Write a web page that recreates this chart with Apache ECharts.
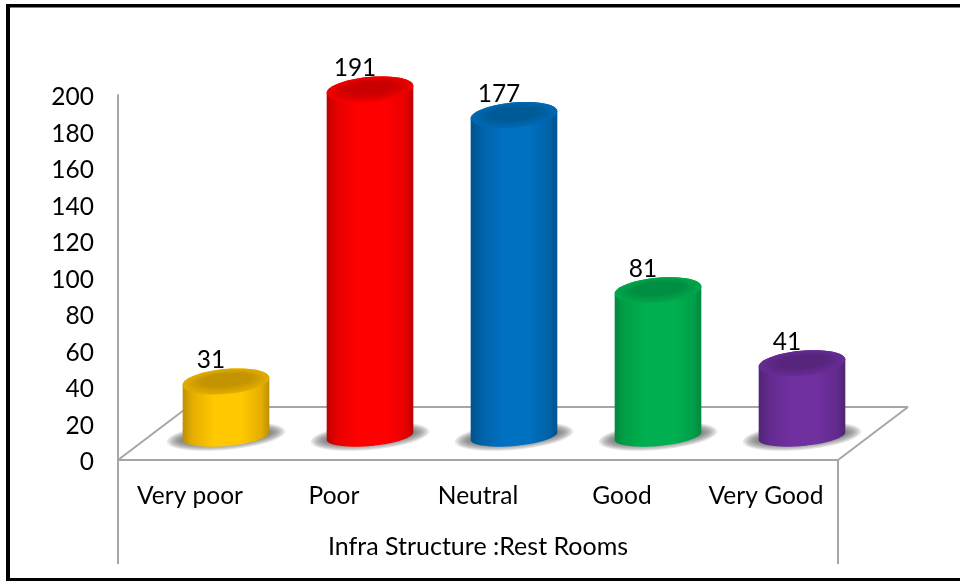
<!DOCTYPE html>
<html><head><meta charset="utf-8">
<style>html,body{margin:0;padding:0;background:#fff}#c{width:960px;height:581px}</style>
<script src="https://cdn.jsdelivr.net/npm/echarts@6/dist/echarts.min.js"></script>
</head><body><div id="c"></div>
<script>
const categories = ['Very poor', 'Poor', 'Neutral', 'Good', 'Very Good'];
const values = [31, 191, 177, 81, 41];
const yMax = 200;
const yStep = 20;
const axisName = 'Infra Structure :Rest Rooms';
const palette = [
  {mid:'#FFC800', soft:'#E6AF00', edge:'#BE9000', cap:'#C29400', rim:'#E2AC00'},
  {mid:'#FF0000', soft:'#E80000', edge:'#BE0000', cap:'#CA0000', rim:'#F00000'},
  {mid:'#0070C0', soft:'#0062A8', edge:'#00528E', cap:'#005A96', rim:'#0068B2'},
  {mid:'#00B050', soft:'#00A048', edge:'#008A3F', cap:'#008F42', rim:'#00A64B'},
  {mid:'#7030A0', soft:'#632A8E', edge:'#512474', cap:'#57267C', rim:'#672C94'}
];
const FONT = 'Lato';
const GREY = '#A6A6A6';
const TILT = -5.2 * Math.PI / 180;
const RX = 43.5;
const LAYERS = 9;

function ellipse(cx, cy, rx, ry, from, to) {
  const pts = [], n = 48;
  for (let i = 0; i <= n; i++) {
    const t = from + (to - from) * i / n;
    const x = rx * Math.cos(t), y = ry * Math.sin(t);
    pts.push([cx + x * Math.cos(TILT) - y * Math.sin(TILT),
              cy + x * Math.sin(TILT) + y * Math.cos(TILT)]);
  }
  return pts;
}
function hGrad(c) {
  return new echarts.graphic.LinearGradient(0, 0, 1, 0, [
    {offset:0, color:c.edge}, {offset:0.12, color:c.soft},
    {offset:0.36, color:c.mid}, {offset:0.68, color:c.mid},
    {offset:0.9, color:c.soft}, {offset:1, color:c.edge}
  ]);
}

function renderFloor(params, api) {
  const rect = params.coordSys;
  const y0 = rect.y + rect.height, L = rect.x, R = rect.x + rect.width;
  const back = y0 - 53, lines = [
    [[L, y0], [L + 70, back]],
    [[L + 70, back], [R + 70, back]],
    [[R + 70, back], [R, y0]],
    [[L, y0], [R, y0]],
    [[L, y0], [L, y0 + 104]],
    [[R, y0], [R, y0 + 104]]
  ];
  return {type:'group', silent:true, children: lines.map(p => ({
    type:'line',
    shape:{x1:p[0][0], y1:p[0][1], x2:p[1][0], y2:p[1][1]},
    style:{stroke:GREY, lineWidth:2}
  }))};
}

function renderBar(params, api) {
  const i = params.dataIndex;
  const top = api.coord([api.value(0), api.value(1)]);
  const base = api.coord([api.value(0), 0]);
  const step = api.size([1, 0])[0];
  const cx = top[0] + step * 0.25;
  const topY = top[1] - 22, botY = base[1] - 24;
  const c = palette[i];
  const topRy = 12.5, botRy = 10;
  const kids = [];
  for (let k = 0; k < LAYERS; k++) {
    const t = k / (LAYERS - 1);
    kids.push({type:'polygon', silent:true,
      shape:{points:ellipse(cx, botY + 0.5, RX + 16 - t * 14, 13.5 - t * 7, 0, 2 * Math.PI)},
      style:{fill:'rgba(90,90,90,0.13)'}});
  }
  const body = ellipse(cx, topY, RX, topRy, Math.PI, 2 * Math.PI)
    .concat(ellipse(cx, botY, RX, botRy, 0, Math.PI));
  kids.push({type:'polygon', shape:{points:body}, style:{fill:hGrad(c)}});
  for (let k = 0; k < LAYERS; k++) {
    const t = k / (LAYERS - 1);
    kids.push({type:'polygon', silent:true,
      shape:{points:ellipse(cx, topY - t * 1.5, RX - t * 18, topRy - t * 6, 0, 2 * Math.PI)},
      style:{fill:echarts.color.lerp(t, [c.rim, c.cap])}});
  }
  kids.push({type:'text', style:{text:String(api.value(1)), x:cx - 15, y:topY - 21, align:'center',
      verticalAlign:'middle', font:'24.5px ' + FONT, fill:'#000'}});
  return {type:'group', children:kids};
}

const chart = echarts.init(document.getElementById('c'));
chart.setOption({
  animation:false,
  backgroundColor:'#fff',
  grid:{left:118, right:122, top:95, bottom:121, containLabel:false},
  xAxis:{type:'category', data:categories,
    axisLine:{show:false}, axisTick:{show:false},
    axisLabel:{interval:0, fontFamily:FONT, fontSize:24.5, color:'#000', margin:24},
    name:axisName, nameLocation:'middle', nameGap:74,
    nameTextStyle:{fontFamily:FONT, fontSize:25, color:'#000'}},
  yAxis:{type:'value', min:0, max:yMax, interval:yStep,
    axisLine:{show:true, lineStyle:{color:GREY, width:2}}, axisTick:{show:false},
    splitLine:{show:false},
    axisLabel:{formatter:'{n|{value}}', margin:24, align:'right',
      rich:{n:{fontFamily:FONT, fontSize:24.5, color:'#000', padding:[5,0,0,0]}}}},
  graphic:[
    {type:'rect', silent:true, z:100, shape:{x:6, y:4, width:954, height:3.5}, style:{fill:'#000'}},
    {type:'rect', silent:true, z:100, shape:{x:6, y:4, width:4, height:577}, style:{fill:'#000'}},
    {type:'rect', silent:true, z:100, shape:{x:6, y:578, width:954, height:3}, style:{fill:'#000'}}
  ],
  series:[
    {type:'custom', name:'floor', silent:true, renderItem:renderFloor, data:[[0, 0]], z:1,
      encode:{x:0, y:1}, clip:false},
    {type:'custom', name:axisName, renderItem:renderBar, z:2, clip:false, encode:{x:0, y:1},
      data:values.map((v, i) => [categories[i], v])}
  ]
});
</script></body></html>
